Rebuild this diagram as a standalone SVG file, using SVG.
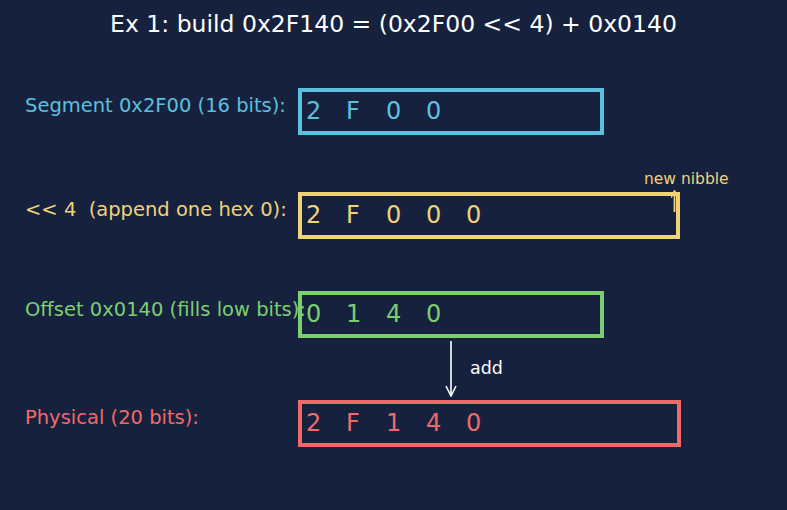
<svg xmlns="http://www.w3.org/2000/svg" width="787" height="510" viewBox="0 0 787 510">
<defs>
<style>
text{font-family:"DejaVu Sans","Liberation Sans",sans-serif}
.lbl{font-size:19.5px}
.dig{font-size:24px}
.box{fill:none;stroke-width:4}
.c{fill:#5bc0de}.y{fill:#f0d27a}.g{fill:#7ccf6f}.r{fill:#f06a6a}
</style>
<marker id="ah" viewBox="0 0 12 12" refX="11" refY="6" markerWidth="12" markerHeight="12" markerUnits="userSpaceOnUse" orient="auto">
<path d="M1,1 L11,6 L1,11" fill="none" stroke="context-stroke" stroke-width="1.6"/>
</marker>
<marker id="ahs" viewBox="0 0 12 12" refX="11" refY="6" markerWidth="8" markerHeight="8" markerUnits="userSpaceOnUse" orient="auto">
<path d="M1,1 L11,6 L1,11" fill="none" stroke="context-stroke" stroke-width="2.2"/>
</marker>
</defs>
<rect width="787" height="510" fill="#16213e"/>
<text x="393.5" y="32" font-size="23.5" fill="#ffffff" text-anchor="middle">Ex 1: build 0x2F140 = (0x2F00 &lt;&lt; 4) + 0x0140</text>
<g id="segment">
<text class="lbl c" x="25" y="112">Segment 0x2F00 (16 bits):</text>
<rect class="box" x="300" y="90" width="302" height="43" stroke="#5bc0de"/>
<text class="dig c" y="119"><tspan x="306">2</tspan><tspan x="346">F</tspan><tspan x="386">0</tspan><tspan x="426">0</tspan></text>
</g>
<g id="shift">
<text class="lbl y" x="25" y="216" xml:space="preserve">&lt;&lt; 4  (append one hex 0):</text>
<rect class="box" x="300" y="194" width="378" height="43" stroke="#f0d27a"/>
<text class="dig y" y="223"><tspan x="306">2</tspan><tspan x="346">F</tspan><tspan x="386">0</tspan><tspan x="426">0</tspan><tspan x="466">0</tspan></text>
<text x="644" y="184" font-size="15.5" class="y">new nibble</text>
</g>
<g id="offset">
<text class="lbl g" x="25" y="316">Offset 0x0140 (fills low bits):</text>
<rect class="box" x="300" y="293" width="302" height="43" stroke="#7ccf6f"/>
<text class="dig g" y="322"><tspan x="306">0</tspan><tspan x="346">1</tspan><tspan x="386">4</tspan><tspan x="426">0</tspan></text>
</g>
<g id="physical">
<text class="lbl r" x="25" y="424">Physical (20 bits):</text>
<rect class="box" x="300" y="402" width="379" height="43" stroke="#f06a6a"/>
<text class="dig r" y="431"><tspan x="306">2</tspan><tspan x="346">F</tspan><tspan x="386">1</tspan><tspan x="426">4</tspan><tspan x="466">0</tspan></text>
</g>
<g id="connectors">
<line x1="674.5" y1="212" x2="674.5" y2="191" stroke="#f0d27a" stroke-width="1.8" marker-end="url(#ahs)"/>
<line x1="451" y1="341" x2="451" y2="396" stroke="#ffffff" stroke-width="1.6" marker-end="url(#ah)"/>
<text x="470" y="374" font-size="17.5" fill="#ffffff">add</text>
</g>
</svg>
